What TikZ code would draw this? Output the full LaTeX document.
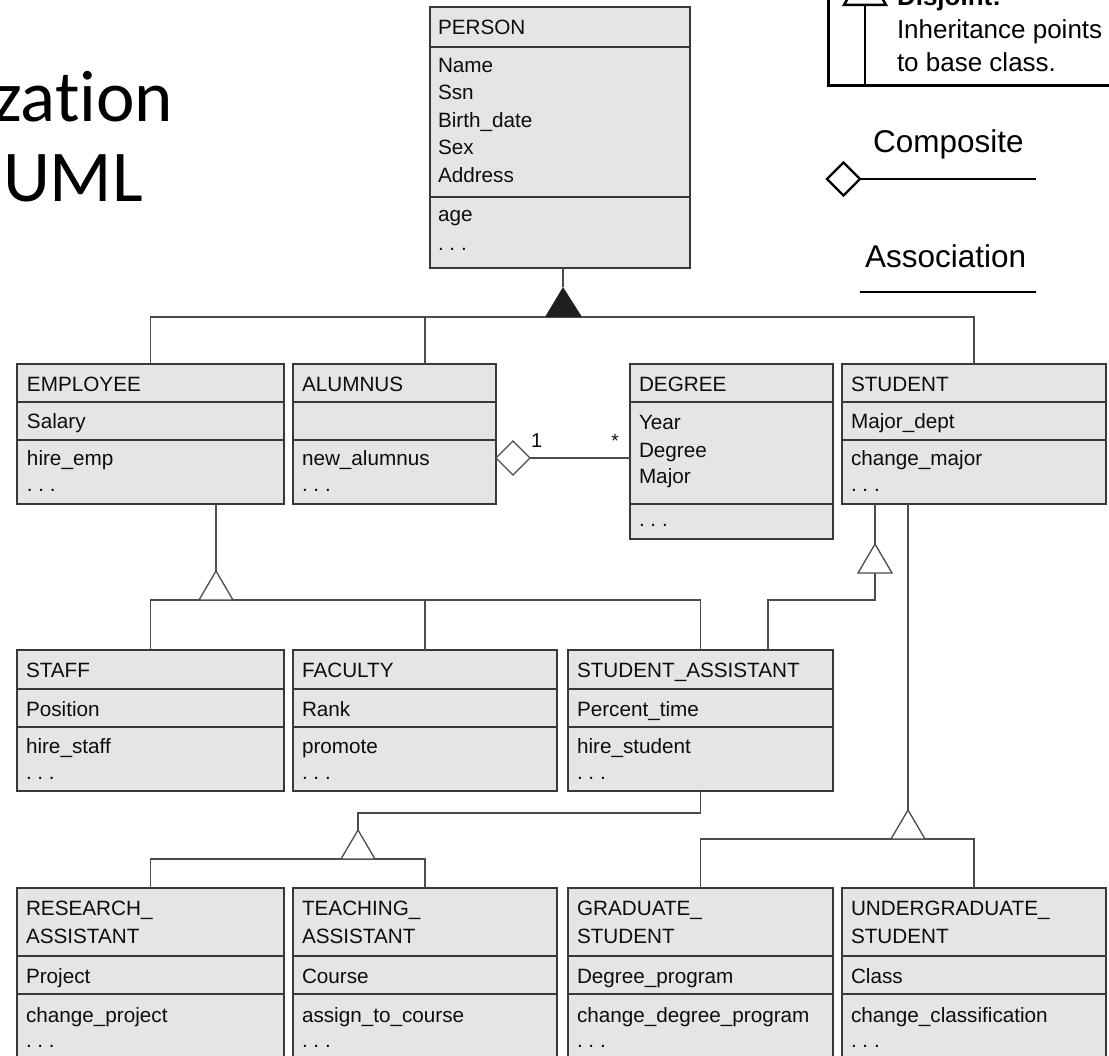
\documentclass[tikz,border=0pt]{standalone}
\usepackage{fontspec}
\setmainfont{Liberation Sans}
\newfontfamily\titlefont[Ligatures=NoCommon]{Carlito}
\usetikzlibrary{calc,shapes.geometric}
\frenchspacing
\newcommand{\umlbox}[7]{%
  \node[boxnode, minimum width={#4-#2}, minimum height={#7-#3}] (#1) at (#2,#3) {};
  \draw[divider] (#2,#5) -- (#4,#5);
  \draw[divider] (#2,#6) -- (#4,#6);
}
\newcommand{\gentri}[1]{%
  \draw[conn, fill=white] (#1) -- ++(-17,29) -- ++(34,0) -- cycle;
}
\begin{document}
\begin{tikzpicture}[x=1pt,y=-1pt,
  boxnode/.style={draw=black!78, fill=black!10, line width=1.4pt, inner sep=0pt, outer sep=0pt, anchor=north west},
  divider/.style={draw=black!78, line width=1.4pt},
  conn/.style={draw=black!70, line width=1.3pt},
  txt/.style={anchor=base west, inner sep=0pt, outer sep=0pt, text=black!95, font=\fontsize{20.7}{24}\selectfont},
  legtxt/.style={anchor=base west, inner sep=0pt, outer sep=0pt, text=black, font=\fontsize{26}{30}\selectfont},
  legbig/.style={anchor=base west, inner sep=0pt, outer sep=0pt, text=black, font=\fontsize{31.5}{36}\selectfont},
  legline/.style={draw=black, line width=2.5pt},
  titletxt/.style={inner sep=0pt, outer sep=0pt, text=black, font=\titlefont\fontsize{73}{84}\selectfont},
]
\clip (0,0) rectangle (1109,1056);
\fill[white] (0,0) rectangle (1109,1056);

% ---------- slide title fragment ----------
\node[titletxt, anchor=base east] (title1) at (173,122) {zation};
\node[titletxt, anchor=base west] (title2) at (3,202) {UML};

% ---------- boxes ----------
\umlbox{person}{430}{7}{690}{47}{197}{268}
\umlbox{employee}{17}{364}{284}{402}{440}{504}
\umlbox{alumnus}{293}{364}{496}{402}{440}{504}
\umlbox{degree}{630}{364}{833}{402}{504}{539}
\umlbox{student}{842}{364}{1106}{402}{440}{504}
\umlbox{staff}{17}{650}{284}{689}{727}{791}
\umlbox{faculty}{293}{650}{557}{689}{727}{791}
\umlbox{sa}{568}{650}{833}{689}{727}{791}
\umlbox{ra}{17}{888}{284}{956}{994}{1080}
\umlbox{ta}{293}{888}{557}{956}{994}{1080}
\umlbox{gs}{568}{888}{833}{956}{994}{1080}
\umlbox{ugs}{842}{888}{1106}{956}{994}{1080}

% ---------- texts ----------
\node[txt] (person-t) at (438,35) {PERSON};
\node[txt] (person-a1) at (438,73) {Name};
\node[txt] (person-a2) at (438,100) {Ssn};
\node[txt] (person-a3) at (438,128) {Birth\_date};
\node[txt] (person-a4) at (438,155) {Sex};
\node[txt] (person-a5) at (438,183) {Address};
\node[txt] (person-o1) at (438,222) {age};
\node[txt] (person-o2) at (438,251) {.\ .\ .};

\node[txt] (employee-t) at (27,392) {EMPLOYEE};
\node[txt] (employee-a) at (27,429) {Salary};
\node[txt] (employee-o1) at (27,466) {hire\_emp};
\node[txt] (employee-o2) at (27,492) {.\ .\ .};

\node[txt] (alumnus-t) at (302,392) {ALUMNUS};
\node[txt] (alumnus-o1) at (302,466) {new\_alumnus};
\node[txt] (alumnus-o2) at (302,492) {.\ .\ .};

\node[txt] (degree-t) at (639,392) {DEGREE};
\node[txt] (degree-a1) at (639,430) {Year};
\node[txt] (degree-a2) at (639,457) {Degree};
\node[txt] (degree-a3) at (639,483) {Major};
\node[txt] (degree-o) at (639,526) {.\ .\ .};

\node[txt] (student-t) at (851,392) {STUDENT};
\node[txt] (student-a) at (851,429) {Major\_dept};
\node[txt] (student-o1) at (851,466) {change\_major};
\node[txt] (student-o2) at (851,492) {.\ .\ .};

\node[txt] (staff-t) at (26,677) {STAFF};
\node[txt] (staff-a) at (26,716) {Position};
\node[txt] (staff-o1) at (26,753) {hire\_staff};
\node[txt] (staff-o2) at (26,779) {.\ .\ .};

\node[txt] (faculty-t) at (302,677) {FACULTY};
\node[txt] (faculty-a) at (302,716) {Rank};
\node[txt] (faculty-o1) at (302,753) {promote};
\node[txt] (faculty-o2) at (302,779) {.\ .\ .};

\node[txt] (sa-t) at (577,677) {STUDENT\_ASSISTANT};
\node[txt] (sa-a) at (577,716) {Percent\_time};
\node[txt] (sa-o1) at (577,753) {hire\_student};
\node[txt] (sa-o2) at (577,779) {.\ .\ .};

\node[txt] (ra-t1) at (26,915) {RESEARCH\_};
\node[txt] (ra-t2) at (26,943) {ASSISTANT};
\node[txt] (ra-a) at (26,983) {Project};
\node[txt] (ra-o1) at (26,1022) {change\_project};
\node[txt] (ra-o2) at (26,1047) {.\ .\ .};

\node[txt] (ta-t1) at (302,915) {TEACHING\_};
\node[txt] (ta-t2) at (302,943) {ASSISTANT};
\node[txt] (ta-a) at (302,983) {Course};
\node[txt] (ta-o1) at (302,1022) {assign\_to\_course};
\node[txt] (ta-o2) at (302,1047) {.\ .\ .};

\node[txt] (gs-t1) at (577,915) {GRADUATE\_};
\node[txt] (gs-t2) at (577,943) {STUDENT};
\node[txt] (gs-a) at (577,983) {Degree\_program};
\node[txt] (gs-o1) at (577,1022) {change\_degree\_program};
\node[txt] (gs-o2) at (577,1047) {.\ .\ .};

\node[txt] (ugs-t1) at (851,915) {UNDERGRADUATE\_};
\node[txt] (ugs-t2) at (851,943) {STUDENT};
\node[txt] (ugs-a) at (851,983) {Class};
\node[txt] (ugs-o1) at (851,1022) {change\_classification};
\node[txt] (ugs-o2) at (851,1047) {.\ .\ .};

% ---------- connectors ----------
% PERSON -> EMPLOYEE / ALUMNUS / STUDENT (disjoint, filled triangle)
\coordinate (t1) at (563,287);
\coordinate (b1) at (0,317);
\coordinate (alu) at (425,0);
\draw[conn] (person.south -| t1) -- (t1);
\draw[conn] (employee.north) |- (student.north |- b1) -- (student.north);
\draw[conn] (alumnus.north -| alu) -- (alu |- b1);
\fill[black!88] (t1) -- (545,317) -- (582,317) -- cycle;

% ALUMNUS <>-- DEGREE
\coordinate (dl) at (0,458);
\node[diamond, draw=black!70, fill=white, line width=1.3pt, minimum width=34pt, minimum height=34pt, inner sep=0pt, outer sep=0pt, anchor=west] (agg) at (alumnus.east |- dl) {};
\draw[conn] (agg.east) -- (agg.east -| degree.west);
\node[anchor=base west, inner sep=0pt, text=black!95, font=\fontsize{20}{22}\selectfont] (mult1) at (531,448) {1};
\node[anchor=center, inner sep=0pt, text=black!95, font=\fontsize{19}{22}\selectfont] (multstar) at (615,441) {*};

% EMPLOYEE -> STAFF / FACULTY / STUDENT_ASSISTANT
\coordinate (t2) at (216,571);
\coordinate (b2) at (0,600);
\draw[conn] (employee.south -| t2) -- (t2);
\draw[conn] (staff.north) |- (sa.north |- b2) -- (sa.north);
\draw[conn] (faculty.north) -- (faculty.north |- b2);

% STUDENT -> STUDENT_ASSISTANT
\coordinate (t3) at (875,544);
\coordinate (sa2) at (768,650);
\draw[conn] (student.south -| t3) -- (t3);
\draw[conn] ($(t3)+(0,29)$) -- (t3 |- b2) -| (sa2);

% STUDENT -> GRADUATE / UNDERGRADUATE
\coordinate (t4) at (908,810);
\coordinate (b4) at (0,839);
\draw[conn] (student.south -| t4) -- (t4);
\draw[conn] (gs.north) |- (ugs.north |- b4) -- (ugs.north);

% STUDENT_ASSISTANT -> RESEARCH / TEACHING
\coordinate (t5) at (358,830);
\coordinate (k5) at (0,813);
\coordinate (b5) at (0,859);
\draw[conn] (sa.south) |- (t5 |- k5) -- (t5);
\draw[conn] (ra.north) |- (ta.north |- b5) -- (ta.north);

\gentri{t2}
\gentri{t3}
\gentri{t4}
\gentri{t5}

% ---------- legend ----------
\node[draw=black, line width=2.5pt, minimum width=320pt, minimum height=130pt, inner sep=0pt, anchor=south west] (legend) at (827,87) {};
\coordinate (lt) at (865,5);
\draw[legline] (lt) -- (lt |- legend.south);
\draw[legline, fill=white] (844,5) -- (886,5) -- (865,-32) -- cycle;
\node[legtxt, font=\bfseries\fontsize{26}{30}\selectfont] (disj) at (897,6) {Disjoint:};
\node[legtxt] (inh1) at (897,39) {Inheritance points};
\node[legtxt] (inh2) at (897,72) {to base class.};

\node[legbig] (comptxt) at (873,153) {Composite};
\node[diamond, draw=black, fill=white, line width=2.3pt, minimum width=33pt, minimum height=33pt, inner sep=0pt, outer sep=0pt, anchor=west] (compdia) at (827,179) {};
\coordinate (compend) at (1036,179);
\draw[legline] (compdia.east) -- (compend);

\node[legbig] (assoctxt) at (865,268) {Association};
\coordinate (assocA) at (860,292);
\coordinate (assocB) at (1036,292);
\draw[legline] (assocA) -- (assocB);
\end{tikzpicture}
\end{document}
